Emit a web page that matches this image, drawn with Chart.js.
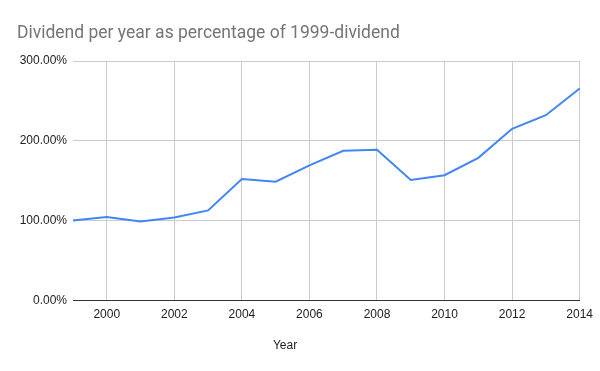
<!DOCTYPE html>
<html>
<head>
<meta charset="utf-8">
<script src="https://cdn.jsdelivr.net/npm/chart.js@4"></script>
<style>
  html, body { margin: 0; padding: 0; background: #fff; }
  #wrap { width: 600px; height: 371px; }
</style>
</head>
<body>
<div id="wrap"><canvas id="chart"></canvas></div>
<script>
const years = ['1999', '2000', '2001', '2002', '2003', '2004', '2005', '2006',
  '2007', '2008', '2009', '2010', '2011', '2012', '2013', '2014']
const dividendPct = [100, 104.2, 98.7, 103.8, 112.6, 152, 148.7, 169,
  187.4, 188.6, 150.8, 156.7, 178.6, 215, 232, 265.6]
const yTicks = [0, 100, 200, 300]

// axis title sits a bit left of the plot centre in the original
const yearTitle = {
  id: 'yearTitle',
  afterDraw(chart) {
    const c = chart.ctx
    const xs = chart.scales.x
    c.save()
    c.fillStyle = '#222'
    c.font = '12px "Liberation Sans"'
    c.textAlign = 'center'
    c.textBaseline = 'middle'
    c.fillText('Year', chart.width / 2 - 15, xs.bottom - 6)
    c.restore()
  }
}

const grafica = document.getElementById('chart')
new Chart(grafica, {
  type: 'line',
  data: {
    labels: years,
    datasets: [
      {
        label: 'Dividend',
        data: dividendPct,
        borderColor: '#4285F4',
        borderWidth: 2,
        pointRadius: 0,
        tension: 0,
        fill: false
      }
    ]
  },
  options: {
    responsive: true,
    maintainAspectRatio: false,
    animation: false,
    layout: {
      padding: { left: 17, right: 12, top: 10, bottom: 19 }
    },
    plugins: {
      legend: { display: false },
      tooltip: { enabled: false },
      title: {
        display: true,
        align: 'start',
        text: 'Dividend per year as percentage of 1999-dividend',
        color: '#757575',
        font: { family: 'Roboto', size: 17.5, weight: 'normal' },
        padding: { top: 13, bottom: 17 }
      }
    },
    scales: {
      x: {
        type: 'category',
        offset: false,
        border: { display: true, color: '#333', width: 1 },
        grid: {
          color: ctx => (ctx.index > 0 && Number(years[ctx.index]) % 2 === 0) ? '#ccc' : 'rgba(0,0,0,0)',
          drawTicks: false
        },
        ticks: {
          autoSkip: false,
          maxRotation: 0,
          color: '#222',
          padding: 7,
          font: { family: 'Liberation Sans', size: 12 },
          callback: (v, i) => Number(years[i]) % 2 === 0 ? years[i] : ''
        },
        title: {
          display: true,
          text: 'Year',
          color: 'rgba(0,0,0,0)',
          font: { family: 'Liberation Sans', size: 12 },
          padding: { top: 9, bottom: 0 }
        }
      },
      y: {
        min: 0,
        max: 300,
        afterBuildTicks: axis => { axis.ticks = yTicks.map(v => ({ value: v })) },
        afterFit: axis => { axis.width = 56 },
        border: { display: false },
        grid: { color: '#ccc', drawTicks: false },
        ticks: {
          color: '#222',
          padding: 6,
          font: { family: 'Liberation Sans', size: 12 },
          callback: v => v.toFixed(2) + '%'
        }
      }
    }
  },
  plugins: [yearTitle]
})
</script>
</body>
</html>
